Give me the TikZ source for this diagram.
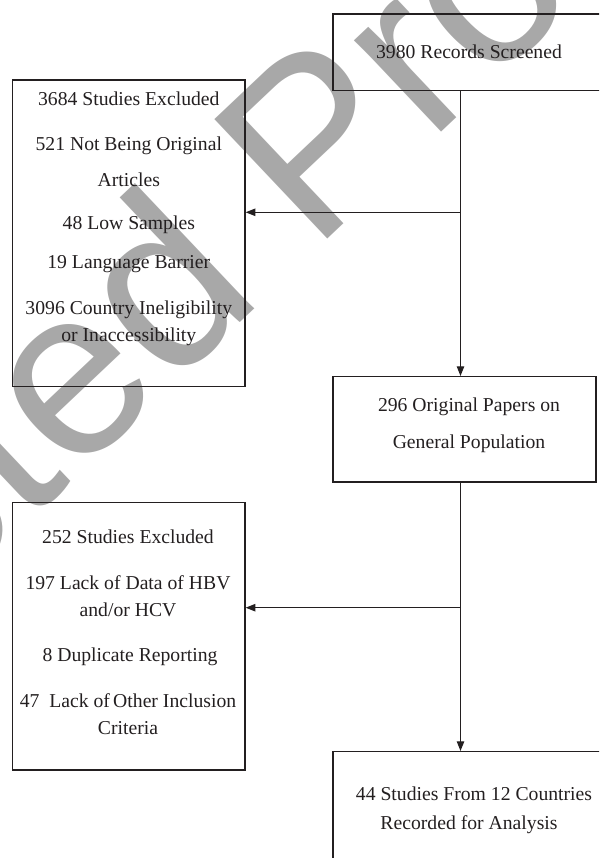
\documentclass[tikz,border=0pt]{standalone}
\usepackage{fontspec}
\setmainfont{Liberation Serif}
\newfontfamily\wmfont{Liberation Sans}
\usetikzlibrary{arrows.meta,positioning}
\definecolor{ink}{HTML}{231F20}
\definecolor{wmgray}{HTML}{A8A8A8}
\newcommand\boxsize{\fontsize{11.2}{13}\selectfont}
\tikzset{
  box/.style={draw=ink, line width=0.75pt, inner sep=0pt},
  txt/.style={text=ink, font=\boxsize, inner sep=0pt, text height=8pt, text depth=2pt},
  flow/.style={draw=ink, line width=0.7pt, -{Triangle[length=5.5pt,width=4.2pt]}},
  wmark/.style={text=wmgray, font=\wmfont\fontsize{136}{136}\selectfont, inner sep=0pt}
}
\begin{document}
\begin{tikzpicture}[x=0.02cm, y=-0.02cm]
  \useasboundingbox (0,0) rectangle (599,858);
  \clip (0,0) rectangle (599,858);

  % watermark
  \node[wmark, rotate=43.4, anchor=base] (wm) at (24.7,526.3) {Uncorrected Proof};

  % boxes
  \node[box, minimum width=5.44cm,  minimum height=1.534cm] (rec) at (469,52.3)    {};
  \node[box, minimum width=4.648cm, minimum height=6.134cm] (exa) at (128.8,233.3) {};
  \node[box, minimum width=5.26cm,  minimum height=2.106cm] (org) at (464.5,429.3) {};
  \node[box, minimum width=4.648cm, minimum height=5.346cm] (exb) at (128.8,636.3) {};
  \node[box, minimum width=5.44cm,  minimum height=2.766cm] (inc) at (469,820.8)   {};

  % texts
  \node[txt] (rec-t) at (469,53) {3980 Records Screened};

  \node[txt] (exa-1) at (128.8,100)   {3684 Studies Excluded};
  \node[txt] (exa-2) at (128.8,145.7) {521 Not Being Original};
  \node[txt] (exa-3) at (128.8,181)   {Articles};
  \node[txt] (exa-4) at (128.8,224)   {48 Low Samples};
  \node[txt] (exa-5) at (128.8,263.3) {19 Language Barrier};
  \node[txt] (exa-6) at (128.8,309)   {3096 Country Ineligibility};
  \node[txt] (exa-7) at (128.8,336.7) {or Inaccessibility};

  \node[txt] (org-1) at (469,406.7) {296 Original Papers on};
  \node[txt] (org-2) at (469,443.3) {General Population};

  \node[txt] (exb-1) at (128,538.3) {252 Studies Excluded};
  \node[txt] (exb-2) at (128,584)   {197 Lack of Data of HBV};
  \node[txt] (exb-3) at (128,611.7) {and/or HCV};
  \node[txt] (exb-4) at (130,656.7) {8 Duplicate Reporting};
  \node[txt] (exb-5) at (128,702.7) {47~ Lack of\,Other Inclusion};
  \node[txt] (exb-6) at (128,729)   {Criteria};

  \node[txt] (inc-1) at (474,795) {44 Studies From 12 Countries};
  \node[txt] (inc-2) at (469,824) {Recorded for Analysis};

  % connectors
  \coordinate (spine) at (460.5,0);
  \coordinate (ja) at (460.5,212.3);
  \coordinate (jb) at (460.5,607.7);
  \draw[flow] (rec.south -| spine) -- (org.north -| spine);
  \draw[flow] (ja) -- (ja -| exa.east);
  \draw[flow] (org.south -| spine) -- (inc.north -| spine);
  \draw[flow] (jb) -- (jb -| exb.east);
\end{tikzpicture}
\end{document}
